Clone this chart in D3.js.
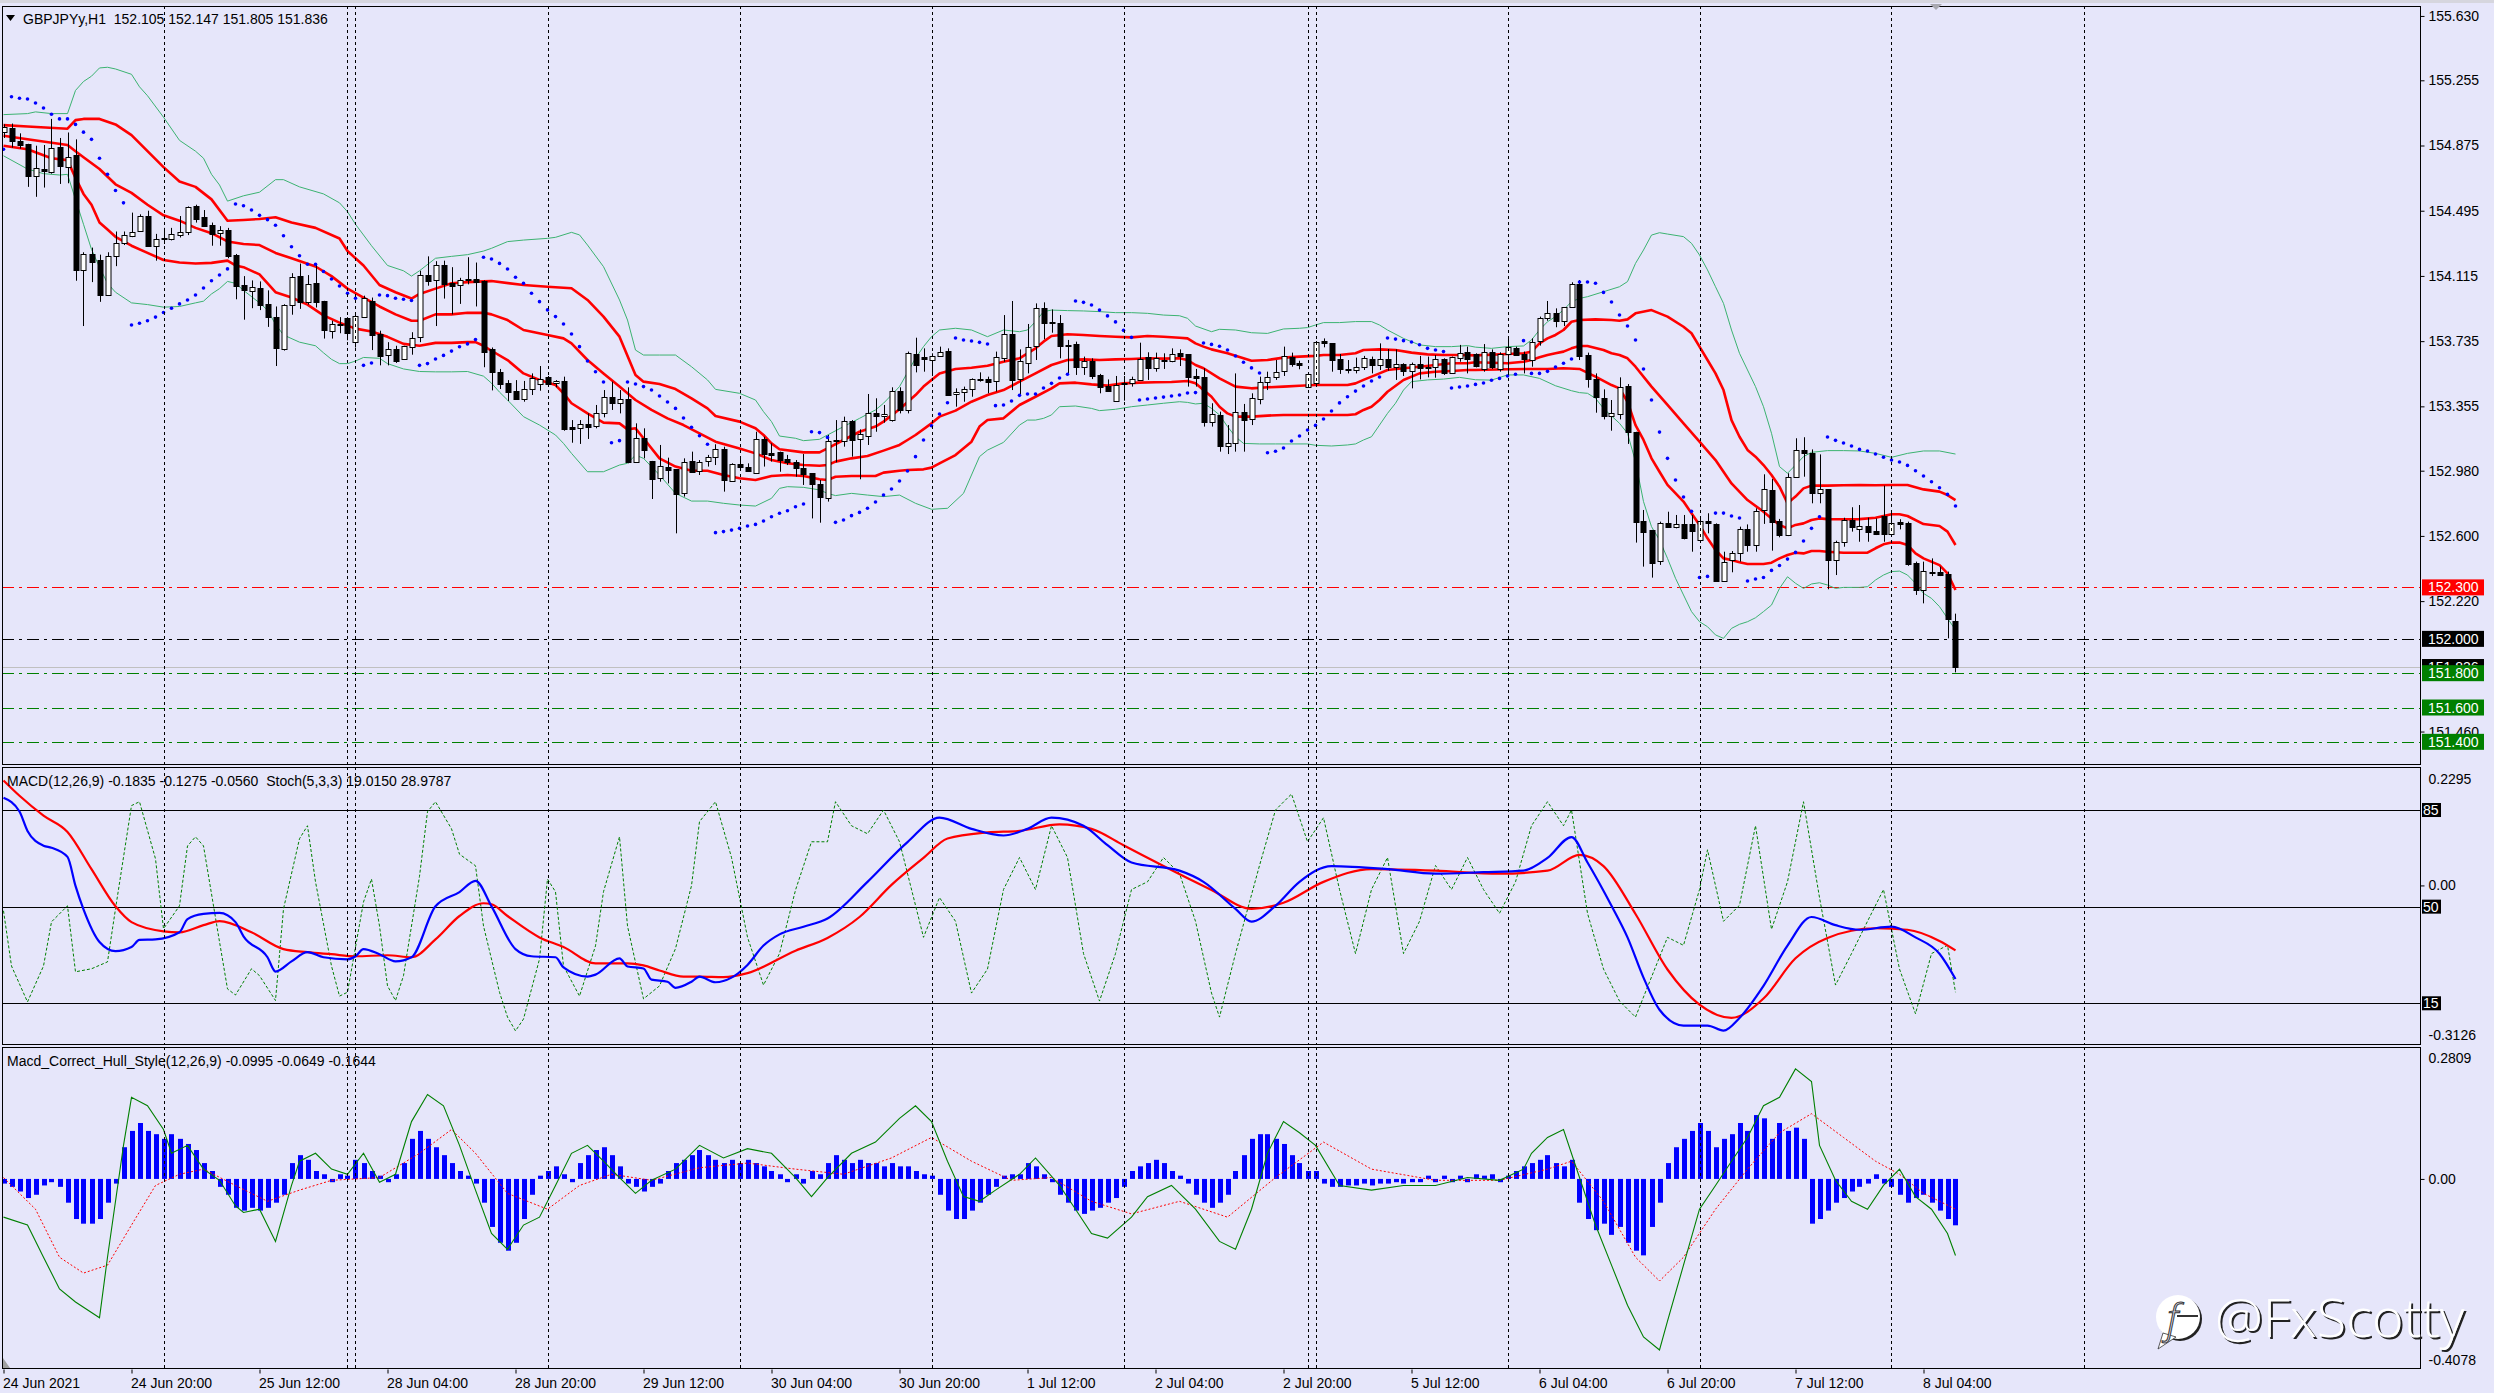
<!DOCTYPE html>
<html><head><meta charset="utf-8">
<script src="https://cdn.jsdelivr.net/npm/d3@7"></script>
<style>body{margin:0;background:#E6E6FA;overflow:hidden}svg{display:block}</style>
</head><body>
<svg id="c" width="2494" height="1393"></svg>
<script>
// ---------------- DATA ----------------
const candleOpen=[154.953,154.978,154.903,154.882,154.695,154.738,154.722,154.865,154.749,154.819,
154.151,154.243,154.208,154.002,154.229,154.305,154.349,154.378,154.464,154.291,
154.333,154.333,154.353,154.372,154.520,154.457,154.412,154.360,154.380,154.239,
154.062,154.029,154.045,153.952,153.875,153.687,153.943,154.114,153.964,154.072,
153.968,153.791,153.827,153.871,153.729,153.881,153.968,153.777,153.650,153.687,
153.629,153.704,153.756,154.120,154.089,154.176,154.072,154.062,154.091,154.097,
154.083,153.687,153.553,153.491,153.444,153.398,153.454,153.483,153.528,153.489,
153.503,153.235,153.231,153.252,153.237,153.314,153.408,153.378,153.396,153.027,
153.169,153.037,152.936,153.004,152.990,152.854,153.037,152.980,153.033,153.058,
153.105,152.916,153.017,153.004,152.965,153.163,153.081,153.087,153.048,153.033,
152.998,152.965,152.903,152.825,153.153,153.155,153.270,153.163,153.178,153.314,
153.295,153.275,153.446,153.334,153.658,153.645,153.625,153.648,153.678,153.425,
153.437,153.454,153.512,153.512,153.499,153.635,153.775,153.512,153.610,153.703,
153.926,153.845,153.839,153.711,153.716,153.582,153.621,153.538,153.474,153.388,
153.483,153.489,153.505,153.645,153.577,153.625,153.619,153.664,153.658,153.532,
153.526,153.266,153.305,153.124,153.140,153.320,153.279,153.402,153.499,153.528,
153.563,153.645,153.606,153.466,153.493,153.734,153.722,153.631,153.573,153.563,
153.582,153.631,153.596,153.631,153.582,153.600,153.557,153.602,153.586,153.582,
153.629,153.547,153.635,153.670,153.658,153.571,153.670,153.573,153.664,153.697,
153.658,153.629,153.732,153.868,153.897,153.849,153.932,154.066,153.654,153.512,
153.402,153.299,153.308,153.474,153.207,152.687,152.635,152.450,152.673,152.650,
152.670,152.668,152.576,152.689,152.670,152.339,152.456,152.498,152.638,152.551,
152.747,152.868,152.687,152.605,152.941,153.101,153.081,152.848,152.871,152.463,
152.566,152.693,152.638,152.658,152.629,152.716,152.615,152.683,152.673,152.440,
152.285,152.392,152.392,152.378,152.105];
const candleHigh=[154.999,155.003,154.946,154.885,154.874,154.878,155.030,154.919,154.951,154.911,
154.253,154.280,154.239,154.253,154.374,154.374,154.484,154.474,154.495,154.360,
154.395,154.395,154.464,154.520,154.530,154.499,154.426,154.405,154.395,154.243,
154.114,154.089,154.083,154.031,153.937,153.950,154.131,154.187,154.120,154.187,
153.970,153.854,153.875,153.875,153.891,154.000,153.989,153.796,153.729,153.708,
153.708,153.787,154.145,154.229,154.201,154.204,154.166,154.104,154.224,154.193,
154.089,153.698,153.573,153.508,153.508,153.503,153.547,153.590,153.532,153.508,
153.528,153.275,153.275,153.314,153.363,153.450,153.499,153.450,153.466,153.256,
153.227,153.037,153.130,153.056,152.990,153.052,153.091,153.042,153.072,153.134,
153.120,153.023,153.052,153.023,153.207,153.178,153.139,153.091,153.072,153.042,
153.077,152.965,152.926,153.188,153.275,153.295,153.275,153.221,153.427,153.402,
153.363,153.466,153.466,153.674,153.755,153.693,153.664,153.703,153.693,153.460,
153.470,153.518,153.553,153.528,153.674,153.887,153.969,153.687,153.835,153.955,
153.961,153.920,153.887,153.742,153.732,153.645,153.635,153.544,153.512,153.532,
153.532,153.528,153.726,153.670,153.668,153.664,153.693,153.687,153.658,153.573,
153.577,153.373,153.324,153.246,153.547,153.369,153.431,153.528,153.557,153.625,
153.703,153.668,153.621,153.547,153.736,153.751,153.722,153.660,153.625,153.639,
153.649,153.645,153.722,153.689,153.687,153.606,153.610,153.649,153.645,153.654,
153.635,153.645,153.713,153.703,153.664,153.718,153.687,153.670,153.757,153.703,
153.674,153.751,153.878,153.969,153.926,153.932,154.078,154.091,153.668,153.547,
153.454,153.392,153.524,153.485,153.207,152.751,152.635,152.683,152.741,152.722,
152.722,152.722,152.712,152.732,152.673,152.508,152.512,152.654,152.667,152.761,
152.959,152.932,152.699,152.965,153.169,153.175,153.104,153.075,152.871,152.572,
152.706,152.767,152.780,152.706,152.702,152.893,152.735,152.697,152.683,152.450,
152.450,152.469,152.421,152.392,152.147];
const candleLow=[154.919,154.863,154.857,154.634,154.576,154.630,154.711,154.651,154.655,154.087,
153.823,154.079,153.964,154.000,154.172,154.295,154.341,154.372,154.287,154.204,
154.301,154.322,154.339,154.353,154.426,154.405,154.291,154.291,154.218,153.979,
153.860,153.927,153.916,153.818,153.590,153.680,153.889,153.923,153.948,153.931,
153.750,153.750,153.781,153.740,153.698,153.875,153.683,153.594,153.594,153.608,
153.625,153.656,153.729,154.058,153.823,153.983,153.891,153.952,154.066,153.937,
153.583,153.448,153.456,153.386,153.398,153.382,153.421,153.446,153.470,153.466,
153.213,153.143,153.136,153.165,153.227,153.291,153.334,153.314,153.023,153.027,
153.052,152.815,152.916,152.906,152.615,152.829,152.974,152.955,153.004,153.013,
152.858,152.916,152.988,152.974,152.961,153.004,153.033,152.974,153.013,152.945,
152.897,152.702,152.677,152.800,153.029,153.120,153.062,152.930,153.130,153.207,
153.260,153.266,153.314,153.314,153.553,153.557,153.532,153.645,153.421,153.353,
153.382,153.411,153.499,153.431,153.441,153.615,153.450,153.421,153.547,153.625,
153.746,153.784,153.635,153.544,153.538,153.538,153.514,153.431,153.441,153.388,
153.388,153.470,153.505,153.509,153.557,153.573,153.612,153.590,153.470,153.470,
153.237,153.237,153.091,153.077,153.091,153.091,153.246,153.367,153.450,153.509,
153.532,153.586,153.571,153.466,153.493,153.699,153.557,153.544,153.547,153.547,
153.567,153.547,153.567,153.563,153.509,153.532,153.460,153.512,153.524,153.522,
153.538,153.544,153.615,153.547,153.582,153.557,153.573,153.557,153.538,153.654,
153.547,153.586,153.709,153.854,153.816,153.823,153.932,153.625,153.464,153.318,
153.279,153.213,153.279,153.136,152.561,152.421,152.357,152.431,152.650,152.644,
152.580,152.508,152.567,152.615,152.333,152.333,152.388,152.450,152.508,152.508,
152.670,152.514,152.592,152.599,152.941,152.945,152.790,152.790,152.289,152.372,
152.537,152.625,152.566,152.566,152.605,152.566,152.605,152.638,152.426,152.256,
152.207,152.366,152.366,152.003,151.805];
const candleClose=[154.984,154.903,154.878,154.693,154.742,154.724,154.859,154.753,154.807,154.151,
154.243,154.197,154.006,154.229,154.305,154.351,154.372,154.464,154.291,154.330,
154.337,154.360,154.370,154.516,154.447,154.405,154.360,154.380,154.229,154.058,
154.035,154.050,153.948,153.875,153.692,153.943,154.108,153.962,154.068,153.964,
153.798,153.833,153.833,153.781,153.883,153.989,153.771,153.650,153.687,153.619,
153.704,153.754,154.120,154.083,154.176,154.068,154.052,154.089,154.097,154.079,
153.671,153.552,153.485,153.441,153.398,153.454,153.518,153.512,153.487,153.503,
153.223,153.225,153.252,153.237,153.314,153.408,153.373,153.400,153.027,153.169,
153.101,152.932,153.008,152.988,152.844,153.033,152.974,153.033,153.058,153.105,
152.922,153.017,153.000,152.980,153.163,153.077,153.071,153.042,153.029,152.998,
152.961,152.903,152.825,153.155,153.159,153.270,153.159,153.192,153.314,153.295,
153.308,153.446,153.334,153.664,153.592,153.635,153.650,153.670,153.421,153.437,
153.454,153.512,153.505,153.493,153.641,153.775,153.509,153.619,153.703,153.926,
153.839,153.839,153.703,153.705,153.582,153.619,153.534,153.470,153.446,153.480,
153.489,153.513,153.629,153.582,153.635,153.619,153.660,153.645,153.522,153.522,
153.266,153.311,153.126,153.140,153.320,153.272,153.402,153.499,153.528,153.557,
153.649,153.606,153.592,153.542,153.732,153.722,153.621,153.571,153.565,153.582,
153.635,153.596,153.629,153.582,153.600,153.557,153.600,153.580,153.580,153.631,
153.547,153.641,153.664,153.631,153.590,153.670,153.580,153.658,153.703,153.658,
153.631,153.732,153.868,153.897,153.849,153.932,154.066,153.648,153.512,153.407,
153.295,153.314,153.466,153.207,152.683,152.625,152.444,152.673,152.650,152.668,
152.586,152.629,152.689,152.677,152.337,152.450,152.498,152.638,152.547,152.747,
152.871,152.683,152.605,152.941,153.101,153.081,152.848,152.871,152.460,152.566,
152.693,152.650,152.658,152.625,152.611,152.609,152.677,152.673,152.434,152.281,
152.396,152.386,152.376,152.114,151.836];
const sarValues=[154.853,155.159,155.150,155.146,155.123,155.094,155.057,155.030,155.030,154.998,
154.953,154.911,154.801,154.707,154.613,154.541,153.829,153.839,153.854,153.875,
153.902,153.927,153.952,153.975,154.004,154.045,154.087,154.120,154.156,154.534,
154.524,154.499,154.468,154.443,154.410,154.349,154.285,154.233,154.183,154.183,
154.141,154.097,154.056,154.014,153.985,153.594,153.608,154.004,154.000,153.985,
153.979,153.972,153.594,153.604,153.631,153.652,153.677,153.702,153.719,153.744,
154.224,154.214,154.188,154.155,154.107,154.072,154.014,153.965,153.917,153.878,
153.835,153.777,153.703,153.619,153.557,153.497,153.143,153.155,153.497,153.485,
153.470,153.450,153.415,153.380,153.343,153.287,153.233,153.184,153.134,152.619,
152.625,152.634,152.644,152.658,152.667,152.687,152.712,152.732,152.747,152.770,
152.786,153.207,153.202,153.174,152.679,152.693,152.718,152.737,152.761,152.798,
152.838,152.873,152.920,152.978,153.062,153.159,153.242,153.310,153.376,153.753,
153.742,153.736,153.728,153.718,153.359,153.363,153.386,153.419,153.427,153.427,
153.462,153.489,153.520,153.542,153.969,153.961,153.946,153.916,153.882,153.847,
153.798,153.757,153.392,153.398,153.404,153.409,153.415,153.421,153.433,153.435,
153.724,153.716,153.705,153.683,153.648,153.612,153.579,153.549,153.085,153.093,
153.112,153.153,153.182,153.217,153.244,153.281,153.328,153.375,153.411,153.444,
153.474,153.503,153.526,153.753,153.747,153.738,153.730,153.714,153.693,153.683,
153.674,153.462,153.468,153.474,153.483,153.491,153.507,153.518,153.532,153.542,
153.738,153.547,153.547,153.559,153.584,153.606,153.631,154.080,154.080,154.072,
154.019,153.963,153.887,153.823,153.742,153.573,153.392,153.205,153.052,152.926,
152.827,152.743,152.358,152.364,152.733,152.733,152.716,152.704,152.337,152.349,
152.358,152.399,152.428,152.465,152.504,152.570,152.644,152.712,153.176,153.157,
153.141,153.124,153.104,153.095,153.077,153.058,153.042,153.031,153.011,152.980,
152.949,152.916,152.881,152.842,152.774];

// bands: [bar index, price]
const bandGreenUpper=[[0,155.055],[3,155.061],[4,155.071],[6,155.061],[8,155.061],[9,155.196],[10,155.248],[11,155.279],[12,155.327],[13,155.331],[14,155.321],[16,155.290],[17,155.217],[18,155.165],[20,155.040],[22,154.905],[24,154.842],[25,154.801],[26,154.707],[27,154.645],[28,154.551],[30,154.582],[32,154.603],[34,154.676],[35,154.676],[37,154.634],[40,154.593],[42,154.541],[43,154.489],[44,154.416],[46,154.291],[48,154.176],[50,154.145],[51,154.114],[52,154.145],[54,154.218],[56,154.229],[58,154.239],[60,154.260],[61,154.276],[63,154.315],[65,154.324],[68,154.334],[69,154.340],[71,154.369],[72,154.354],[73,154.295],[75,154.169],[77,153.975],[78,153.858],[79,153.683],[80,153.654],[82,153.654],[84,153.654],[86,153.586],[88,153.509],[89,153.454],[92,153.431],[94,153.392],[95,153.324],[96,153.266],[97,153.182],[99,153.169],[100,153.155],[102,153.163],[103,153.188],[105,153.237],[107,153.285],[109,153.334],[110,153.373],[112,153.470],[114,153.635],[115,153.703],[116,153.761],[117,153.800],[119,153.810],[121,153.800],[123,153.761],[125,153.800],[127,153.790],[128,153.800],[129,153.849],[130,153.907],[131,153.916],[133,153.913],[135,153.911],[137,153.907],[139,153.901],[141,153.901],[143,153.897],[145,153.887],[147,153.883],[148,153.868],[149,153.823],[151,153.790],[152,153.804],[154,153.800],[156,153.784],[158,153.780],[160,153.806],[162,153.810],[163,153.814],[164,153.829],[165,153.843],[167,153.843],[169,153.849],[171,153.849],[172,153.829],[173,153.800],[175,153.751],[177,153.713],[179,153.703],[181,153.703],[183,153.709],[184,153.700],[186,153.693],[188,153.703],[190,153.707],[191,153.742],[192,153.800],[193,153.848],[194,153.878],[195,153.917],[196,153.965],[197,153.984],[198,153.994],[200,154.023],[202,154.052],[203,154.082],[204,154.188],[205,154.266],[206,154.353],[207,154.367],[208,154.359],[210,154.344],[211,154.305],[212,154.237],[213,154.150],[214,154.052],[215,153.955],[216,153.800],[217,153.664],[218,153.567],[219,153.470],[220,153.353],[221,153.198],[222,153.004],[223,152.965],[224,153.013],[225,153.062],[226,153.087],[228,153.097],[230,153.097],[232,153.095],[234,153.081],[236,153.058],[238,153.081],[240,153.095],[242,153.095],[244,153.077]];
const bandRedUpper=[[0,154.994],[3,154.986],[8,154.973],[9,155.023],[10,155.030],[12,155.030],[14,154.998],[16,154.936],[18,154.842],[20,154.749],[22,154.665],[24,154.634],[26,154.561],[28,154.437],[30,154.441],[32,154.447],[34,154.457],[36,154.426],[39,154.395],[42,154.333],[43,154.260],[45,154.176],[47,154.062],[49,154.020],[51,153.983],[52,154.010],[54,154.041],[56,154.072],[58,154.079],[60,154.083],[61,154.085],[65,154.062],[68,154.052],[71,154.043],[73,153.975],[75,153.878],[77,153.761],[79,153.538],[80,153.499],[82,153.485],[84,153.456],[86,153.402],[88,153.343],[89,153.299],[92,153.266],[94,153.227],[95,153.188],[96,153.139],[97,153.105],[100,153.087],[102,153.087],[103,153.110],[105,153.159],[107,153.207],[109,153.237],[110,153.266],[112,153.338],[114,153.421],[115,153.470],[116,153.509],[117,153.547],[119,153.573],[121,153.580],[123,153.592],[125,153.615],[127,153.635],[129,153.693],[130,153.732],[131,153.765],[133,153.775],[135,153.771],[137,153.765],[139,153.761],[141,153.757],[143,153.765],[145,153.761],[147,153.755],[148,153.751],[149,153.722],[150,153.703],[151,153.687],[153,153.664],[155,153.635],[156,153.621],[158,153.625],[160,153.639],[162,153.645],[164,153.649],[165,153.654],[167,153.654],[169,153.664],[170,153.683],[172,153.687],[174,153.683],[176,153.668],[178,153.658],[180,153.654],[182,153.654],[184,153.652],[188,153.660],[190,153.664],[191,153.674],[192,153.722],[193,153.751],[194,153.771],[195,153.800],[196,153.848],[197,153.858],[199,153.862],[201,153.858],[202,153.854],[203,153.862],[204,153.897],[206,153.916],[208,153.878],[210,153.819],[211,153.781],[212,153.703],[213,153.625],[214,153.547],[215,153.450],[216,153.275],[217,153.178],[218,153.101],[219,153.062],[220,153.013],[221,152.955],[222,152.887],[223,152.790],[224,152.829],[225,152.877],[226,152.893],[228,152.893],[230,152.895],[232,152.897],[234,152.895],[236,152.897],[238,152.897],[240,152.871],[242,152.858],[243,152.838],[244,152.809]];
const bandRedMiddle=[[0,154.932],[3,154.911],[8,154.878],[9,154.842],[10,154.807],[12,154.738],[14,154.649],[16,154.599],[18,154.530],[20,154.468],[22,154.437],[24,154.395],[26,154.364],[28,154.316],[30,154.301],[32,154.295],[34,154.249],[36,154.218],[39,154.170],[41,154.114],[43,154.041],[45,153.989],[47,153.937],[49,153.891],[51,153.854],[52,153.854],[54,153.891],[56,153.891],[58,153.900],[60,153.900],[61,153.891],[63,153.858],[65,153.800],[68,153.771],[70,153.751],[71,153.722],[73,153.625],[75,153.547],[77,153.470],[79,153.392],[81,153.334],[83,153.285],[85,153.246],[87,153.198],[89,153.149],[92,153.110],[94,153.081],[96,153.042],[98,153.023],[100,153.013],[102,153.009],[103,153.013],[104,153.033],[106,153.052],[108,153.066],[110,153.097],[112,153.130],[113,153.159],[114,153.188],[116,153.256],[117,153.295],[119,153.330],[121,153.382],[123,153.421],[125,153.450],[127,153.499],[129,153.547],[131,153.596],[133,153.625],[135,153.629],[137,153.625],[139,153.629],[141,153.631],[143,153.635],[145,153.633],[147,153.635],[148,153.625],[149,153.596],[150,153.577],[152,153.518],[154,153.470],[156,153.460],[158,153.466],[160,153.470],[162,153.475],[164,153.479],[166,153.479],[168,153.479],[169,153.489],[170,153.509],[171,153.528],[172,153.547],[173,153.567],[175,153.577],[177,153.586],[179,153.596],[181,153.606],[183,153.606],[184,153.612],[188,153.606],[190,153.615],[191,153.625],[192,153.641],[193,153.654],[194,153.664],[195,153.674],[196,153.693],[197,153.707],[198,153.707],[200,153.683],[201,153.664],[202,153.654],[203,153.635],[204,153.586],[206,153.470],[208,153.363],[210,153.256],[212,153.149],[214,153.042],[216,152.906],[218,152.809],[220,152.741],[221,152.702],[222,152.664],[223,152.644],[224,152.664],[225,152.673],[226,152.693],[227,152.702],[228,152.698],[230,152.697],[232,152.698],[234,152.706],[236,152.726],[237,152.726],[238,152.716],[240,152.669],[242,152.658],[243,152.625],[244,152.547]];
const bandRedLower=[[0,154.874],[3,154.853],[6,154.801],[8,154.790],[9,154.686],[10,154.593],[11,154.530],[12,154.426],[13,154.385],[14,154.343],[16,154.291],[18,154.249],[20,154.208],[22,154.193],[24,154.187],[26,154.191],[28,154.204],[29,154.176],[30,154.166],[32,154.124],[34,154.020],[36,153.989],[38,153.948],[40,153.885],[42,153.843],[44,153.808],[46,153.791],[48,153.760],[50,153.719],[52,153.708],[54,153.725],[56,153.725],[58,153.729],[59,153.729],[60,153.708],[61,153.679],[63,153.625],[65,153.547],[67,153.509],[69,153.479],[70,153.431],[71,153.373],[73,153.314],[75,153.260],[77,153.256],[78,153.221],[79,153.227],[80,153.169],[82,153.052],[84,153.004],[86,152.980],[88,152.980],[90,152.955],[92,152.936],[94,152.926],[96,152.949],[98,152.955],[100,152.949],[102,152.930],[103,152.926],[104,152.945],[106,152.949],[108,152.949],[109,152.949],[110,152.969],[112,152.980],[113,152.984],[115,152.988],[116,152.998],[117,153.023],[119,153.071],[121,153.149],[122,153.237],[123,153.275],[125,153.285],[127,153.363],[129,153.411],[131,153.460],[132,153.489],[134,153.493],[136,153.483],[138,153.476],[140,153.489],[142,153.493],[144,153.495],[146,153.497],[148,153.503],[149,153.489],[150,153.450],[151,153.411],[152,153.353],[153,153.314],[154,153.295],[156,153.295],[158,153.301],[160,153.305],[162,153.305],[164,153.305],[166,153.305],[168,153.305],[169,153.309],[170,153.334],[171,153.353],[172,153.392],[173,153.440],[175,153.509],[177,153.547],[179,153.557],[181,153.561],[183,153.567],[184,153.567],[188,153.571],[191,153.573],[193,153.573],[195,153.577],[197,153.573],[199,153.528],[201,153.479],[202,153.460],[203,153.382],[204,153.246],[205,153.159],[206,153.052],[207,152.974],[208,152.897],[210,152.800],[211,152.732],[212,152.664],[213,152.586],[214,152.518],[215,152.469],[216,152.460],[217,152.446],[218,152.436],[220,152.436],[221,152.444],[222,152.469],[223,152.489],[224,152.502],[225,152.498],[226,152.512],[227,152.512],[228,152.508],[230,152.502],[232,152.502],[233,152.502],[234,152.528],[235,152.551],[236,152.561],[237,152.561],[238,152.547],[239,152.498],[240,152.469],[242,152.430],[243,152.382],[244,152.285]];
const bandGreenLower=[[0,154.815],[3,154.738],[5,154.711],[7,154.703],[8,154.707],[9,154.561],[10,154.416],[11,154.270],[12,154.166],[13,154.072],[14,154.020],[16,153.958],[18,153.948],[20,153.933],[22,153.937],[24,153.958],[25,153.968],[26,154.010],[27,154.041],[28,154.083],[29,154.072],[30,154.031],[32,153.958],[33,153.916],[34,153.833],[35,153.771],[37,153.729],[39,153.708],[40,153.667],[41,153.629],[42,153.604],[43,153.604],[44,153.619],[45,153.640],[47,153.635],[48,153.604],[50,153.573],[52,153.558],[54,153.556],[56,153.556],[58,153.558],[60,153.531],[61,153.490],[62,153.438],[63,153.392],[65,153.295],[67,153.246],[69,153.188],[70,153.139],[71,153.081],[73,152.974],[75,152.974],[77,153.013],[78,153.023],[79,153.071],[80,153.052],[82,152.955],[84,152.848],[86,152.803],[88,152.803],[90,152.790],[92,152.780],[94,152.774],[96,152.819],[97,152.877],[98,152.887],[100,152.883],[102,152.868],[103,152.848],[104,152.835],[106,152.848],[108,152.838],[110,152.829],[112,152.838],[114,152.790],[116,152.755],[118,152.761],[120,152.848],[122,153.062],[123,153.100],[125,153.145],[127,153.246],[128,153.275],[129,153.275],[130,153.285],[131,153.305],[132,153.353],[134,153.357],[136,153.343],[137,153.330],[139,153.338],[141,153.353],[143,153.363],[145,153.373],[147,153.382],[148,153.378],[149,153.369],[150,153.373],[151,153.343],[152,153.305],[153,153.237],[154,153.178],[155,153.139],[157,153.136],[159,153.136],[161,153.136],[163,153.136],[164,153.128],[166,153.124],[168,153.130],[169,153.136],[170,153.159],[171,153.178],[172,153.246],[173,153.314],[174,153.373],[175,153.450],[176,153.499],[178,153.509],[180,153.514],[182,153.524],[184,153.510],[186,153.508],[188,153.538],[190,153.538],[192,153.518],[194,153.475],[196,153.446],[197,153.435],[198,153.431],[199,153.402],[200,153.343],[202,153.256],[203,153.198],[204,153.033],[205,152.800],[206,152.654],[207,152.576],[208,152.469],[209,152.353],[210,152.256],[211,152.159],[212,152.100],[213,152.071],[214,152.023],[215,152.003],[216,152.061],[217,152.085],[218,152.100],[219,152.123],[220,152.159],[221,152.197],[222,152.294],[223,152.362],[224,152.324],[225,152.294],[226,152.320],[227,152.327],[228,152.314],[229,152.294],[230,152.300],[232,152.300],[233,152.304],[234,152.343],[235,152.372],[236,152.392],[237,152.395],[238,152.372],[239,152.324],[240,152.265],[241,152.236],[242,152.188],[243,152.120],[244,152.052]];

// MACD(12,26,9) main / signal: [bar, value]
const macdMain=[[0,0.172],[2,0.145],[3,0.107],[5,0.078],[6,0.074],[8,0.056],[9,-0.001],[10,-0.047],[12,-0.111],[14,-0.129],[16,-0.121],[17,-0.107],[19,-0.106],[22,-0.092],[23,-0.066],[25,-0.056],[27,-0.054],[29,-0.072],[30,-0.100],[33,-0.141],[34,-0.169],[36,-0.149],[38,-0.131],[40,-0.141],[43,-0.145],[44,-0.139],[45,-0.125],[47,-0.135],[49,-0.149],[51,-0.141],[54,-0.041],[57,-0.013],[59,0.009],[61,-0.041],[64,-0.125],[66,-0.139],[69,-0.141],[70,-0.161],[73,-0.179],[74,-0.175],[77,-0.143],[78,-0.159],[80,-0.163],[81,-0.185],[83,-0.189],[84,-0.201],[86,-0.189],[87,-0.179],[89,-0.190],[91,-0.181],[93,-0.156],[95,-0.118],[97,-0.096],[100,-0.081],[103,-0.065],[108,0.007],[113,0.085],[117,0.133],[121,0.111],[125,0.098],[128,0.111],[131,0.133],[135,0.117],[138,0.079],[141,0.045],[147,0.029],[150,0.007],[154,-0.046],[156,-0.071],[159,-0.040],[162,0.007],[166,0.038],[173,0.032],[179,0.023],[185,0.026],[190,0.029],[193,0.054],[196,0.095],[198,0.045],[201,-0.040],[203,-0.102],[205,-0.181],[207,-0.244],[210,-0.275],[213,-0.275],[215,-0.285],[217,-0.260],[220,-0.197],[223,-0.118],[226,-0.062],[229,-0.078],[232,-0.087],[236,-0.081],[239,-0.102],[242,-0.134],[244,-0.1835]];
const macdSignal=[[0,0.206],[2,0.176],[5,0.137],[8,0.105],[11,0.032],[14,-0.041],[16,-0.072],[20,-0.090],[22,-0.092],[25,-0.078],[27,-0.070],[31,-0.092],[35,-0.125],[38,-0.131],[41,-0.135],[44,-0.139],[48,-0.137],[51,-0.141],[54,-0.106],[57,-0.060],[60,-0.035],[61,-0.037],[63,-0.060],[67,-0.102],[70,-0.121],[74,-0.153],[78,-0.153],[80,-0.157],[82,-0.167],[85,-0.179],[87,-0.179],[90,-0.180],[93,-0.172],[99,-0.128],[103,-0.103],[107,-0.062],[111,0.001],[115,0.054],[118,0.092],[123,0.104],[127,0.107],[132,0.120],[136,0.111],[140,0.079],[145,0.038],[151,-0.009],[156,-0.046],[160,-0.034],[165,0.007],[171,0.032],[179,0.029],[187,0.023],[193,0.029],[197,0.060],[200,0.038],[204,-0.056],[208,-0.165],[212,-0.234],[216,-0.260],[220,-0.222],[224,-0.143],[228,-0.103],[234,-0.084],[238,-0.087],[242,-0.109],[244,-0.1275]];
// Stoch(5,3,3) main: [bar, value]
const stochMain=[[0,48.5],[1,28.5],[3,15.5],[5,28.5],[6,44.5],[8,50.3],[9,26.4],[11,27.5],[13,30],[14,49.2],[16,86.6],[17,88],[19,67.3],[20,42],[22,50.3],[23,72],[24,75.3],[25,72],[27,37.3],[28,20.2],[29,18],[31,27.5],[32,25],[34,16],[35,49.2],[37,74.6],[38,79.3],[39,59],[41,28.5],[42,17.6],[43,19],[45,51.7],[46,60],[47,43],[48,21.3],[49,16],[50,25],[52,61],[53,84.4],[54,88],[56,78.2],[57,69],[59,64.8],[60,43],[62,19],[63,10],[64,5],[65,9.3],[67,31],[68,60],[69,55.4],[70,28.5],[72,17.6],[74,35.8],[75,55.4],[77,75.3],[78,43],[80,16.6],[82,21.3],[84,34.8],[86,57.6],[87,80.8],[89,88],[91,67.8],[93,38.9],[95,21.6],[97,33],[99,56],[101,73.5],[103,73.5],[104,88],[106,79.3],[108,76.4],[110,85],[112,73.5],[114,50.5],[115,38.9],[117,53.3],[119,44.7],[121,18.7],[123,27.4],[125,56.2],[127,67.8],[129,56.2],[131,79.3],[133,67.8],[135,33],[137,15.8],[139,33],[141,56.2],[143,59],[145,67.8],[147,62],[149,44.7],[151,18.7],[152,10],[154,33],[157,64.9],[159,85],[161,90.8],[163,73.5],[165,82.2],[167,56.2],[169,33],[171,56.2],[173,67.8],[175,33],[177,44.7],[179,64.9],[181,56.2],[183,67.8],[185,56.2],[187,47.6],[189,59],[191,79.3],[193,88],[195,79.3],[196,85],[198,47.6],[200,27.4],[202,15.8],[204,10],[206,24.5],[208,38.9],[210,36],[212,56.2],[213,70.6],[215,44.7],[217,50.5],[219,79.3],[221,41.8],[223,59],[225,88],[227,53.3],[229,21.6],[231,33],[233,44.7],[235,56.2],[237,27.4],[239,11.2],[241,33],[243,36],[244,19]];
const stochLevels=[85,50,15];

// Macd_Correct_Hull_Style(12,26,9)
const hullHist=[-0.010,-0.017,-0.027,-0.041,-0.034,-0.014,-0.007,-0.017,-0.051,-0.086,
-0.096,-0.096,-0.086,-0.051,-0.010,0.068,0.103,0.120,0.103,0.096,
0.086,0.096,0.086,0.075,0.062,0.034,0.017,-0.017,-0.034,-0.062,
-0.068,-0.062,-0.068,-0.062,-0.051,-0.034,0.034,0.051,0.041,0.017,
0.010,-0.007,0.010,0.007,0.041,0.034,0.017,0.007,-0.007,0.010,
0.034,0.086,0.103,0.086,0.068,0.051,0.034,0.017,0.007,-0.010,
-0.051,-0.103,-0.137,-0.154,-0.137,-0.086,-0.034,0.007,0.017,0.027,
0.010,-0.007,0.034,0.051,0.062,0.068,0.051,0.027,-0.010,-0.017,
-0.027,-0.017,-0.010,0.017,0.034,0.041,0.051,0.062,0.051,0.041,
0.034,0.041,0.034,0.041,0.034,0.027,0.017,0.010,-0.007,0.010,
-0.010,0.017,0.010,0.034,0.051,0.041,0.034,0.041,0.034,0.034,
0.027,0.034,0.027,0.027,0.017,0.010,0.007,-0.034,-0.068,-0.086,
-0.086,-0.068,-0.051,-0.034,-0.017,0.007,0.010,0.010,0.034,0.027,
0.010,-0.007,-0.034,-0.051,-0.068,-0.075,-0.068,-0.062,-0.051,-0.041,
-0.017,0.017,0.027,0.034,0.041,0.034,0.017,0.007,-0.010,-0.034,
-0.051,-0.062,-0.051,-0.034,0.017,0.051,0.086,0.096,0.096,0.086,
0.075,0.051,0.034,0.017,0.017,-0.010,-0.017,-0.017,-0.014,-0.014,
-0.010,-0.014,-0.010,-0.010,-0.007,-0.010,-0.007,-0.007,0.007,-0.007,
0.007,-0.007,0.007,-0.007,0.010,0.007,0.010,-0.007,0.007,0.017,
0.027,0.034,0.041,0.051,0.034,0.027,0.041,-0.051,-0.086,-0.110,
-0.096,-0.120,-0.103,-0.137,-0.154,-0.164,-0.103,-0.051,0.034,0.068,
0.086,0.103,0.120,0.103,0.068,0.086,0.096,0.120,0.103,0.137,
0.130,0.086,0.120,0.103,0.110,0.086,-0.096,-0.086,-0.068,-0.051,
-0.041,-0.027,-0.017,-0.010,0.010,-0.010,-0.017,-0.034,-0.051,-0.041,
-0.034,-0.051,-0.068,-0.086,-0.0995];
const hullLine=[[0,-0.082],[3,-0.099],[5,-0.168],[7,-0.236],[9,-0.264],[12,-0.298],[13,-0.168],[15,0.072],[16,0.175],[18,0.157],[20,0.106],[21,0.055],[23,0.072],[25,0.021],[27,-0.003],[29,-0.058],[30,-0.072],[32,-0.065],[34,-0.134],[36,-0.014],[37,0.038],[39,0.055],[41,0.021],[43,0.010],[45,0.055],[47,-0.007],[49,0.010],[51,0.123],[53,0.181],[55,0.157],[57,0.072],[59,-0.024],[61,-0.117],[63,-0.151],[65,-0.099],[67,-0.082],[69,-0.014],[71,0.055],[73,0.072],[75,0.038],[77,0.003],[79,-0.031],[81,-0.003],[84,0.021],[87,0.072],[90,0.045],[93,0.065],[96,0.055],[99,0.003],[101,-0.038],[103,0.003],[106,0.055],[109,0.079],[112,0.130],[114,0.157],[116,0.123],[118,0.038],[120,-0.038],[122,-0.048],[124,-0.024],[127,0.010],[129,0.045],[132,-0.014],[134,-0.065],[136,-0.117],[138,-0.127],[141,-0.082],[143,-0.038],[146,-0.014],[149,-0.065],[152,-0.134],[154,-0.151],[156,-0.065],[158,0.055],[160,0.123],[162,0.099],[164,0.072],[167,-0.014],[171,-0.024],[175,-0.014],[179,-0.014],[183,0.003],[187,-0.003],[190,0.021],[191,0.055],[193,0.089],[195,0.106],[197,0.003],[199,-0.099],[201,-0.185],[203,-0.271],[205,-0.339],[207,-0.367],[208,-0.305],[210,-0.185],[212,-0.065],[214,-0.014],[216,0.038],[218,0.089],[220,0.157],[222,0.175],[224,0.236],[226,0.209],[227,0.072],[229,-0.003],[231,-0.048],[233,-0.065],[235,-0.014],[237,0.021],[239,-0.038],[241,-0.065],[243,-0.117],[244,-0.1644]];
const hullSignal=[[0,0.003],[4,-0.065],[7,-0.168],[10,-0.202],[13,-0.185],[16,-0.099],[19,-0.014],[22,0.010],[25,0.021],[29,-0.014],[33,-0.048],[37,-0.024],[41,-0.003],[47,0.003],[52,0.055],[56,0.106],[59,0.055],[63,-0.031],[68,-0.065],[72,-0.014],[76,0.010],[81,-0.003],[87,0.024],[93,0.034],[99,0.021],[105,0.010],[111,0.045],[116,0.089],[121,0.038],[126,-0.003],[131,0.003],[136,-0.048],[141,-0.075],[147,-0.048],[153,-0.082],[159,0.003],[165,0.079],[171,0.021],[179,-0.003],[187,-0.003],[193,0.021],[196,0.038],[200,-0.048],[204,-0.168],[207,-0.219],[210,-0.168],[214,-0.065],[218,0.021],[222,0.099],[226,0.140],[230,0.089],[234,0.038],[237,0.010],[240,-0.031],[244,-0.0649]];

// axes / labels
const timeTickBars=[0,16,32,48,64,80,96,112,128,144,160,176,192,208,224,240];
const timeTickLabels=["24 Jun 2021","24 Jun 20:00","25 Jun 12:00","28 Jun 04:00","28 Jun 20:00","29 Jun 12:00","30 Jun 04:00","30 Jun 20:00","1 Jul 12:00","2 Jul 04:00","2 Jul 20:00","5 Jul 12:00","6 Jul 04:00","6 Jul 20:00","7 Jul 12:00","8 Jul 04:00"];
const separatorBars=[20,43,44,68,92,116,140,163,164,188,212,236,260];
const priceTicks=[155.630,155.255,154.875,154.495,154.115,153.735,153.355,152.980,152.600,152.220,151.460];
const levelPrices=[152.300,152.000,151.800,151.600,151.400];
const levelColors=["#FF0000","#000000","#008000","#008000","#008000"];
const bidPrice=151.836;
const macdTicks=[0.2295,0,-0.3126];
const hullTicks=[0.2809,0,-0.4078];
const headerText="GBPJPYy,H1  152.105 152.147 151.805 151.836";
const macdTitle="MACD(12,26,9) -0.1835 -0.1275 -0.0560  Stoch(5,3,3) 19.0150 28.9787";
const hullTitle="Macd_Correct_Hull_Style(12,26,9) -0.0995 -0.0649 -0.1644";

// ---------------- DRAW ----------------
const W=2494,H=1393, FONT="'Liberation Sans', Arial, sans-serif";
const L=2, R=2420;
const P={main:[6,765],macd:[767,1045],hull:[1047,1369]};
const svg=d3.select('#c');
svg.append('rect').attr('width',W).attr('height',H).attr('fill','#E6E6FA');
svg.append('rect').attr('width',W).attr('height',3).attr('fill','#D6D6DE');

const x=d3.scaleLinear().domain([-0.1875,(R-3.5)/8]).range([L,R]);
const yMain=d3.scaleLinear().domain([151.265,155.688]).range([765,6]);
const yMacd=d3.scaleLinear().domain([-0.3126,0.2295]).range([1044.7,768.5]);
const yStoch=d3.scaleLinear().domain([0,100]).range([1044.7,768.6]);
const yHull=d3.scaleLinear().domain([-0.4078,0.2809]).range([1369,1048]);

const defs=svg.append('defs');
Object.entries(P).forEach(([k,[t,b]])=>{
  defs.append('clipPath').attr('id','clip-'+k).append('rect').attr('x',L).attr('y',t).attr('width',R-L).attr('height',b-t);
});
const gMain=svg.append('g').attr('clip-path','url(#clip-main)');
const gMacd=svg.append('g').attr('clip-path','url(#clip-macd)');
const gHull=svg.append('g').attr('clip-path','url(#clip-hull)');

// separators
const sepG=svg.append('g');
separatorBars.forEach(b=>{
  const xx=Math.round(x(b))+0.5;
  [P.main,P.macd,P.hull].forEach(([t,bt])=>{
    sepG.append('line').attr('x1',xx).attr('x2',xx).attr('y1',t).attr('y2',bt)
      .attr('stroke','#000').attr('stroke-width',1).attr('stroke-dasharray','3,3');
  });
});

// main: horizontal levels
gMain.append('line').attr('x1',L).attr('x2',R).attr('y1',Math.round(yMain(bidPrice))+0.5).attr('y2',Math.round(yMain(bidPrice))+0.5)
  .attr('stroke','#C0C0C0').attr('stroke-width',1);
levelPrices.forEach((p,i)=>{
  const yy=Math.round(yMain(p))+0.5;
  gMain.append('line').attr('x1',L).attr('x2',R).attr('y1',yy).attr('y2',yy)
    .attr('stroke',levelColors[i]).attr('stroke-width',1).attr('stroke-dasharray','12,5,3,5');
});

const lineMain=d3.line().x(d=>x(d[0])).y(d=>yMain(d[1]));
[[bandGreenUpper,'#3CB371',1],[bandGreenLower,'#3CB371',1]].forEach(([d,c,w])=>{
  gMain.append('path').attr('d',lineMain(d)).attr('fill','none').attr('stroke',c).attr('stroke-width',w);
});
[bandRedUpper,bandRedMiddle,bandRedLower].forEach(d=>{
  gMain.append('path').attr('d',lineMain(d)).attr('fill','none').attr('stroke','#FF0000').attr('stroke-width',2.6).attr('stroke-linejoin','round');
});

// candles
const cg=gMain.append('g');
candleOpen.forEach((o,i)=>{
  const c=candleClose[i], h=candleHigh[i], l=candleLow[i];
  const cx=Math.round(x(i))+0.5;
  cg.append('line').attr('x1',cx).attr('x2',cx).attr('y1',yMain(h)).attr('y2',yMain(l)).attr('stroke','#000').attr('stroke-width',1);
  const top=yMain(Math.max(o,c)), bot=yMain(Math.min(o,c));
  if(c>=o){
    cg.append('rect').attr('x',cx-2.5).attr('y',Math.round(top)+0.5).attr('width',5).attr('height',Math.max(1,Math.round(bot-top)))
      .attr('fill','#fff').attr('stroke','#000').attr('stroke-width',1);
  }else{
    cg.append('rect').attr('x',cx-3).attr('y',Math.round(top)).attr('width',6).attr('height',Math.max(2,Math.round(bot-top)+1))
      .attr('fill','#000');
  }
});
// SAR
gMain.append('g').selectAll('circle').data(sarValues).join('circle')
  .attr('cx',(d,i)=>x(i)).attr('cy',d=>yMain(d)).attr('r',1.8).attr('fill','#0000FF');

// MACD panel
stochLevels.forEach(v=>{
  const yy=Math.round(yStoch(v))+0.5;
  gMacd.append('line').attr('x1',L).attr('x2',R).attr('y1',yy).attr('y2',yy).attr('stroke','#000').attr('stroke-width',1);
});
gMacd.append('path').attr('d',d3.line().x(d=>x(d[0])).y(d=>yStoch(d[1]))(stochMain))
  .attr('fill','none').attr('stroke','#008000').attr('stroke-width',1).attr('stroke-dasharray','3,2');
const lineMacd=d3.line().x(d=>x(d[0])).y(d=>yMacd(d[1])).curve(d3.curveMonotoneX);
gMacd.append('path').attr('d',lineMacd(macdSignal)).attr('fill','none').attr('stroke','#FF0000').attr('stroke-width',2.2);
gMacd.append('path').attr('d',lineMacd(macdMain)).attr('fill','none').attr('stroke','#0000FF').attr('stroke-width',2.2);

// Hull panel
const y0=yHull(0);
gHull.append('g').selectAll('rect').data(hullHist).join('rect')
  .attr('x',(d,i)=>Math.round(x(i))-2).attr('width',5)
  .attr('y',d=>Math.min(y0,yHull(d))).attr('height',d=>Math.abs(yHull(d)-y0))
  .attr('fill','#0000FF');
const lineHull=d3.line().x(d=>x(d[0])).y(d=>yHull(d[1]));
gHull.append('path').attr('d',lineHull(hullSignal)).attr('fill','none').attr('stroke','#FF0000').attr('stroke-width',1).attr('stroke-dasharray','2,2');
gHull.append('path').attr('d',lineHull(hullLine)).attr('fill','none').attr('stroke','#008000').attr('stroke-width',1.1);

// panel borders
Object.values(P).forEach(([t,b])=>{
  svg.append('rect').attr('x',L+0.5).attr('y',t+0.5).attr('width',R-L).attr('height',b-t-1)
    .attr('fill','none').attr('stroke','#000').attr('stroke-width',1);
});

// axes
function styleAxis(g){g.select('.domain').remove();g.selectAll('text').attr('font-family',FONT).attr('font-size',14).attr('fill','#000');g.selectAll('line').attr('stroke','#000');}
svg.append('g').attr('transform',`translate(${R+0.5},0)`)
  .call(d3.axisRight(yMain).tickValues(priceTicks).tickFormat(d3.format('.3f')).tickSize(4).tickPadding(4)).call(styleAxis);
const am=svg.append('g').attr('transform',`translate(${R+0.5},0)`)
  .call(d3.axisRight(yMacd).tickValues(macdTicks).tickFormat(d=>d===0?'0.00':d.toFixed(4)).tickSize(4).tickPadding(4)).call(styleAxis);
am.selectAll('.tick').filter(d=>d!==0).select('line').remove();
am.selectAll('.tick text').attr('dy',d=>d>0?'1.05em':(d<0?'-0.35em':'0.32em'));
const ah=svg.append('g').attr('transform',`translate(${R+0.5},0)`)
  .call(d3.axisRight(yHull).tickValues(hullTicks).tickFormat(d=>d===0?'0.00':d.toFixed(4)).tickSize(4).tickPadding(4)).call(styleAxis);
ah.selectAll('.tick').filter(d=>d!==0).select('line').remove();
ah.selectAll('.tick text').attr('dy',d=>d>0?'1.0em':(d<0?'-0.3em':'0.32em'));

const ax=svg.append('g').attr('transform',`translate(0,${P.hull[1]+0.5})`)
  .call(d3.axisBottom(x).tickValues(timeTickBars).tickFormat((d,i)=>timeTickLabels[i]).tickSize(4).tickPadding(5)).call(styleAxis);
ax.selectAll('.tick text').attr('text-anchor','start').attr('x',-1);

// price boxes
function priceBox(v,bg,txt){
  const yy=yMain(v);
  svg.append('rect').attr('x',R+2).attr('y',yy-8).attr('width',62).attr('height',16).attr('fill',bg);
  svg.append('text').attr('x',R+8).attr('y',yy).attr('dy','0.36em').attr('font-family',FONT).attr('font-size',14).attr('fill','#fff').text(txt);
}
priceBox(bidPrice,'#000',d3.format('.3f')(bidPrice));
levelPrices.forEach((p,i)=>priceBox(p,levelColors[i],d3.format('.3f')(p)));
stochLevels.forEach(v=>{
  const yy=yStoch(v);
  svg.append('rect').attr('x',R+2).attr('y',yy-7).attr('width',19).attr('height',14).attr('fill','#000');
  svg.append('text').attr('x',R+3).attr('y',yy).attr('dy','0.36em').attr('font-family',FONT).attr('font-size',14).attr('fill','#fff').text(v);
});

// titles
svg.append('path').attr('d','M6,15 L15,15 L10.5,21 Z').attr('fill','#000');
svg.append('text').attr('x',23).attr('y',24).attr('font-family',FONT).attr('font-size',14).attr('fill','#000').attr('xml:space','preserve').style('white-space','pre').text(headerText);
svg.append('text').attr('x',7).attr('y',786).attr('font-family',FONT).attr('font-size',14).attr('fill','#000').style('white-space','pre').text(macdTitle);
svg.append('text').attr('x',7).attr('y',1066).attr('font-family',FONT).attr('font-size',14).attr('fill','#000').text(hullTitle);
svg.append('path').attr('d','M1930,4 L1942,4 L1936,10 Z').attr('fill','#A8A8B0');
svg.append('path').attr('d','M3,1358 L3,1368 L10,1368 Z').attr('fill','#A0A0A0');

// watermark
const wm=svg.append('g');
wm.append('circle').attr('cx',2180).attr('cy',1319).attr('r',22).attr('fill','#222');
wm.append('circle').attr('cx',2178).attr('cy',1317).attr('r',22).attr('fill','#fff');
wm.append('path').attr('d','M2163,1333 L2158,1349 L2176,1337 Z').attr('fill','#fff').attr('stroke','#333').attr('stroke-width',0.8);
wm.append('text').attr('x',2167).attr('y',1333).attr('font-family',"'Open Sans', sans-serif").attr('font-style','italic').attr('font-size',40).attr('font-weight',300).attr('fill','#E6E6FA').attr('stroke','#333').attr('stroke-width',1).text('f');
wm.append('line').attr('x1',2177).attr('x2',2198).attr('y1',1316).attr('y2',1316).attr('stroke','#333').attr('stroke-width',2);
wm.append('text').attr('x',2217).attr('y',1339).attr('font-family',"'Open Sans', sans-serif").attr('font-weight',300).attr('font-size',54).attr('fill','#222').text('@FxScotty');
wm.append('text').attr('x',2215).attr('y',1337).attr('font-family',"'Open Sans', sans-serif").attr('font-weight',300).attr('font-size',54).attr('fill','#fff').text('@FxScotty');
</script>
</body></html>
